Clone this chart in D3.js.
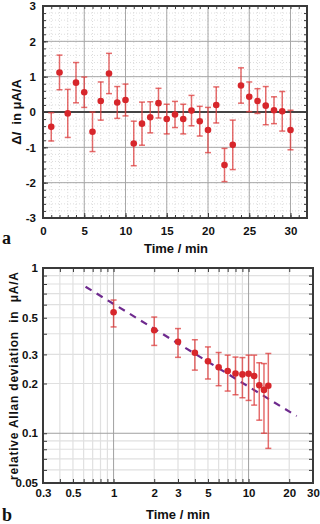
<!DOCTYPE html>
<html><head><meta charset="utf-8">
<script src="https://cdn.jsdelivr.net/npm/d3@7/dist/d3.min.js"></script>
<style>
body{margin:0;background:#fff;}
svg text{font-family:"Liberation Sans",Arial,sans-serif;font-weight:bold;fill:#111;}
</style></head><body>
<svg id="c" width="320" height="524"></svg>
<script>
// ---- Panel a data ----
const timeA = [1,2,3,4,5,6,7,8,9,10,11,12,13,14,15,16,17,18,19,20,21,22,23,24,25,26,27,28,29,30];
const deltaI = [-0.42,1.12,-0.04,0.83,0.56,-0.56,0.31,1.09,0.27,0.34,-0.89,-0.33,-0.15,0.25,-0.2,-0.07,-0.2,0.04,-0.26,-0.51,0.2,-1.5,-0.93,0.75,0.43,0.31,0.18,0.05,0.02,-0.51];
const errA = [0.40,0.49,0.68,0.57,0.43,0.56,0.54,0.57,0.45,0.45,0.63,0.61,0.44,0.42,0.42,0.37,0.42,0.43,0.42,0.64,0.51,0.47,0.70,0.50,0.42,0.35,0.54,0.38,0.56,0.56];
const xTicksA = [0,5,10,15,20,25,30];
const yTicksA = [-3,-2,-1,0,1,2,3];

// ---- Panel b data ----
const timeB = [1,2,3,4,5,6,7,8,9,10,11,12,13,14];
const allan = [0.54,0.42,0.358,0.307,0.273,0.251,0.238,0.23,0.227,0.229,0.222,0.195,0.183,0.194];
const allanHi = [0.64,0.505,0.43,0.368,0.333,0.308,0.297,0.289,0.287,0.297,0.297,0.267,0.264,0.304];
const allanLo = [0.44,0.34,0.288,0.241,0.213,0.194,0.18,0.171,0.164,0.158,0.148,0.12,0.10,0.081];
const fitT = [0.62,22.7];
const fitV = [0.77,0.127];
const xTicksB = [0.3,0.5,1,2,3,5,10,20,30];
const yTicksB = [0.05,0.1,0.2,0.3,0.5,1];

const svg = d3.select("#c");
const axisCol = "#3a3a3a", ptCol = "#d7262b", errCol = "rgba(220,60,60,0.75)";

// ================= Panel a =================
const A = {l:43,t:6,r:307,b:218};
const xa = d3.scaleLinear().domain([0,32]).range([A.l,A.r]);
const ya = d3.scaleLinear().domain([-3,3]).range([A.b,A.t]);
const ga = svg.append("g");
// minor dotted grid
ga.append("g").selectAll("line").data(d3.range(1,32)).enter().append("line")
  .attr("x1",d=>xa(d)).attr("x2",d=>xa(d)).attr("y1",A.t).attr("y2",A.b)
  .attr("stroke","#d4d4d4").attr("stroke-width",0.8).attr("stroke-dasharray","1,2");
ga.append("g").selectAll("line").data(d3.range(-2.8,3,0.2)).enter().append("line")
  .attr("y1",d=>ya(d)).attr("y2",d=>ya(d)).attr("x1",A.l).attr("x2",A.r)
  .attr("stroke","#d4d4d4").attr("stroke-width",0.8).attr("stroke-dasharray","1,2");
// major grid
ga.append("g").selectAll("line").data(xTicksA.slice(1)).enter().append("line")
  .attr("x1",d=>xa(d)).attr("x2",d=>xa(d)).attr("y1",A.t).attr("y2",A.b)
  .attr("stroke","#a8a8a8").attr("stroke-width",1);
ga.append("g").selectAll("line").data(yTicksA.slice(1,-1)).enter().append("line")
  .attr("y1",d=>ya(d)).attr("y2",d=>ya(d)).attr("x1",A.l).attr("x2",A.r)
  .attr("stroke",d=>d===0?"#444":"#a8a8a8").attr("stroke-width",d=>d===0?2:1);
// axes with inward ticks
const minorX = d3.range(0,33,1), minorY = d3.range(-3,3.01,0.2);
ga.append("g").attr("transform",`translate(0,${A.b})`)
  .call(d3.axisBottom(xa).tickValues(minorX).tickSize(-3).tickFormat(""));
ga.append("g").attr("transform",`translate(0,${A.b})`)
  .call(d3.axisBottom(xa).tickValues(xTicksA).tickSize(-5).tickPadding(9).tickFormat(d=>String(d)));
ga.append("g").attr("transform",`translate(0,${A.t})`)
  .call(d3.axisTop(xa).tickValues(minorX).tickSize(-3).tickFormat(""));
ga.append("g").attr("transform",`translate(${A.l},0)`)
  .call(d3.axisLeft(ya).tickValues(minorY).tickSize(-3).tickFormat(""));
ga.append("g").attr("transform",`translate(${A.l},0)`)
  .call(d3.axisLeft(ya).tickValues(yTicksA).tickSize(-5).tickPadding(7).tickFormat(d=>String(d)));
ga.append("g").attr("transform",`translate(${A.r},0)`)
  .call(d3.axisRight(ya).tickValues(minorY).tickSize(-3).tickFormat(""));
ga.append("rect").attr("x",A.l).attr("y",A.t).attr("width",A.r-A.l).attr("height",A.b-A.t)
  .attr("fill","none").attr("stroke",axisCol).attr("stroke-width",2);
// error bars
const ea = ga.append("g").attr("stroke",errCol).attr("stroke-width",1.5);
timeA.forEach((t,i)=>{
  const x=xa(t), y1=ya(deltaI[i]+errA[i]), y2=ya(deltaI[i]-errA[i]);
  ea.append("line").attr("x1",x).attr("x2",x).attr("y1",y1).attr("y2",y2);
  ea.append("line").attr("x1",x-3).attr("x2",x+3).attr("y1",y1).attr("y2",y1);
  ea.append("line").attr("x1",x-3).attr("x2",x+3).attr("y1",y2).attr("y2",y2);
});
ga.append("g").selectAll("circle").data(timeA).enter().append("circle")
  .attr("cx",d=>xa(d)).attr("cy",(d,i)=>ya(deltaI[i])).attr("r",3.3).attr("fill",ptCol);
// text
ga.append("text").attr("x",176).attr("y",253).attr("text-anchor","middle").attr("font-size",13).text("Time / min");
const ta = ga.append("text").attr("transform","translate(21,112) rotate(-90)").attr("text-anchor","middle").attr("font-size",13);
ta.append("tspan").text("Δ");
ta.append("tspan").attr("font-style","italic").text("I");
ta.append("tspan").text("\u00a0 in μA/A");
ga.append("text").attr("x",2).attr("y",244).attr("font-size",18).style("font-family","'Liberation Serif',serif").text("a");

// ================= Panel b =================
const B = {l:43,t:268,r:313,b:483};
const xb = d3.scaleLog().domain([0.3,30]).range([B.l,B.r]);
const yb = d3.scaleLog().domain([0.05,1]).range([B.b,B.t]);
const gb = svg.append("g");
const minorXB = [0.4,0.5,0.6,0.7,0.8,0.9,2,3,4,5,6,7,8,9,20];
const minorYB = [0.06,0.07,0.08,0.09,0.2,0.3,0.4,0.5,0.6,0.7,0.8,0.9];
gb.append("g").selectAll("line").data(minorXB).enter().append("line")
  .attr("x1",d=>xb(d)).attr("x2",d=>xb(d)).attr("y1",B.t).attr("y2",B.b)
  .attr("stroke","#e0e0e0").attr("stroke-width",1.2);
gb.append("g").selectAll("line").data(minorYB).enter().append("line")
  .attr("y1",d=>yb(d)).attr("y2",d=>yb(d)).attr("x1",B.l).attr("x2",B.r)
  .attr("stroke","#e0e0e0").attr("stroke-width",1.2);
gb.append("g").selectAll("line").data([1,10]).enter().append("line")
  .attr("x1",d=>xb(d)).attr("x2",d=>xb(d)).attr("y1",B.t).attr("y2",B.b)
  .attr("stroke","#a0a0a0").attr("stroke-width",1);
gb.append("g").selectAll("line").data([0.1]).enter().append("line")
  .attr("y1",d=>yb(d)).attr("y2",d=>yb(d)).attr("x1",B.l).attr("x2",B.r)
  .attr("stroke","#a0a0a0").attr("stroke-width",1);
const allMinorX = [0.3,0.4,0.5,0.6,0.7,0.8,0.9,1,2,3,4,5,6,7,8,9,10,20,30];
const allMinorY = [0.05,0.06,0.07,0.08,0.09,0.1,0.2,0.3,0.4,0.5,0.6,0.7,0.8,0.9,1];
gb.append("g").attr("transform",`translate(0,${B.b})`)
  .call(d3.axisBottom(xb).tickValues(allMinorX).tickSize(-4).tickFormat(""));
gb.append("g").attr("transform",`translate(0,${B.b})`)
  .call(d3.axisBottom(xb).tickValues(xTicksB).tickSize(0).tickPadding(6).tickFormat(d=>String(d)));
gb.append("g").attr("transform",`translate(0,${B.t})`)
  .call(d3.axisTop(xb).tickValues(allMinorX).tickSize(-4).tickFormat(""));
gb.append("g").attr("transform",`translate(${B.l},0)`)
  .call(d3.axisLeft(yb).tickValues(allMinorY).tickSize(-4).tickFormat(""));
gb.append("g").attr("transform",`translate(${B.l},0)`)
  .call(d3.axisLeft(yb).tickValues(yTicksB).tickSize(0).tickPadding(5).tickFormat(d=>String(d)));
gb.append("g").attr("transform",`translate(${B.r},0)`)
  .call(d3.axisRight(yb).tickValues(allMinorY).tickSize(-4).tickFormat(""));
gb.append("rect").attr("x",B.l).attr("y",B.t).attr("width",B.r-B.l).attr("height",B.b-B.t)
  .attr("fill","none").attr("stroke",axisCol).attr("stroke-width",2);
// fit line
gb.append("line").attr("x1",xb(fitT[0])).attr("y1",yb(fitV[0])).attr("x2",xb(fitT[1])).attr("y2",yb(fitV[1]))
  .attr("stroke","#6e2a8e").attr("stroke-width",2.2).attr("stroke-dasharray","7,6");
const eb = gb.append("g").attr("stroke",errCol).attr("stroke-width",1.5);
timeB.forEach((t,i)=>{
  const x=xb(t), y1=yb(allanHi[i]), y2=yb(allanLo[i]);
  eb.append("line").attr("x1",x).attr("x2",x).attr("y1",y1).attr("y2",y2);
  eb.append("line").attr("x1",x-3).attr("x2",x+3).attr("y1",y1).attr("y2",y1);
  eb.append("line").attr("x1",x-3).attr("x2",x+3).attr("y1",y2).attr("y2",y2);
});
gb.append("g").selectAll("circle").data(timeB).enter().append("circle")
  .attr("cx",d=>xb(d)).attr("cy",(d,i)=>yb(allan[i])).attr("r",3.3).attr("fill",ptCol);
gb.append("text").attr("x",178).attr("y",519).attr("text-anchor","middle").attr("font-size",13).text("Time / min");
gb.append("text").attr("transform","translate(18,376) rotate(-90)").attr("text-anchor","middle").attr("font-size",12)
  .attr("textLength",208).attr("lengthAdjust","spacing")
  .text("relative Allan deviation \u00a0in \u00a0μA/A");
gb.append("text").attr("x",2).attr("y",521).attr("font-size",18).style("font-family","'Liberation Serif',serif").text("b");

svg.selectAll(".domain").remove();
svg.selectAll(".tick line").attr("stroke",axisCol).attr("stroke-width",1);
svg.selectAll(".tick text").attr("font-size",11.5).attr("fill","#111")
  .attr("font-family","'Liberation Sans',Arial,sans-serif").attr("font-weight","bold");
</script>
</body></html>
